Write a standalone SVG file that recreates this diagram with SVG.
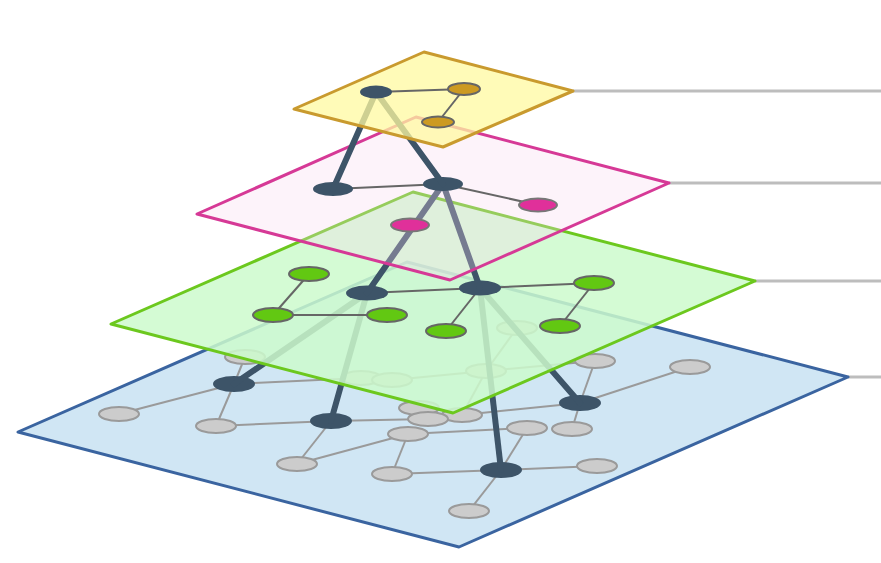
<svg xmlns="http://www.w3.org/2000/svg" width="881" height="563" viewBox="0 0 881 563">
<style>
.guide{stroke:#bdbdbd;stroke-width:3;fill:none}
.plane-b{fill:#d0e6f4;stroke:#3a64a0;stroke-width:3;stroke-linejoin:round}
.plane-g{fill:#cdfacd;fill-opacity:.85;stroke:#6cc81e;stroke-width:3;stroke-linejoin:round}
.plane-p{fill:#f8d8f0;fill-opacity:.3;stroke:#d63996;stroke-width:3;stroke-linejoin:round}
.plane-y{fill:#fff9a0;fill-opacity:.75;stroke:#c99a2e;stroke-width:3;stroke-linejoin:round}
.edge{stroke:#666;stroke-width:2;fill:none}
.edge-b{stroke:#9a9a9a;stroke-width:2;fill:none}
.link{stroke:#3d5468;stroke-width:6;stroke-linecap:round;fill:none}
.n-dark{fill:#3d5468}
.n-grey{fill:#cccccc;stroke:#9a9a9a;stroke-width:2}
.n-green{fill:#62c812;stroke:#666;stroke-width:2}
.n-pink{fill:#e0309a;stroke:#777;stroke-width:2}
.n-gold{fill:#cc9a22;stroke:#666;stroke-width:2}
</style>
<rect width="881" height="563" fill="#ffffff"/>
<g id="guides" class="connectors">
<line class="guide" x1="573" y1="91" x2="881" y2="91"/>
<line class="guide" x1="669" y1="183" x2="881" y2="183"/>
<line class="guide" x1="755" y1="281" x2="881" y2="281"/>
<line class="guide" x1="848" y1="377" x2="881" y2="377"/>
</g>
<!-- Layer 4 (blue) -->
<g id="layer-blue">
<polygon class="plane-b" points="18,432 407,262 848,377 459,547"/>
<g id="edges-blue" class="connectors">
<line class="edge-b" x1="119" y1="414" x2="234" y2="384"/>
<line class="edge-b" x1="234" y1="384" x2="245" y2="357"/>
<line class="edge-b" x1="234" y1="384" x2="216" y2="426"/>
<line class="edge-b" x1="234" y1="384" x2="361" y2="378"/>
<line class="edge-b" x1="216" y1="426" x2="331" y2="421"/>
<line class="edge-b" x1="331" y1="421" x2="297" y2="464"/>
<line class="edge-b" x1="331" y1="421" x2="428" y2="419"/>
<line class="edge-b" x1="297" y1="464" x2="408" y2="434"/>
<line class="edge-b" x1="408" y1="434" x2="392" y2="474"/>
<line class="edge-b" x1="408" y1="434" x2="527" y2="428"/>
<line class="edge-b" x1="392" y1="474" x2="501" y2="470"/>
<line class="edge-b" x1="501" y1="470" x2="527" y2="428"/>
<line class="edge-b" x1="501" y1="470" x2="597" y2="466"/>
<line class="edge-b" x1="501" y1="470" x2="469" y2="511"/>
<line class="edge-b" x1="580" y1="403" x2="572" y2="429"/>
<line class="edge-b" x1="580" y1="403" x2="690" y2="367"/>
<line class="edge-b" x1="580" y1="403" x2="595" y2="361"/>
<line class="edge-b" x1="580" y1="403" x2="462" y2="415"/>
<line class="edge-b" x1="361" y1="378" x2="392" y2="380"/>
<line class="edge-b" x1="392" y1="380" x2="486" y2="371"/>
<line class="edge-b" x1="486" y1="371" x2="517" y2="328"/>
<line class="edge-b" x1="486" y1="371" x2="462" y2="415"/>
<line class="edge-b" x1="486" y1="371" x2="595" y2="361"/>
<line class="edge-b" x1="428" y1="419" x2="462" y2="415"/>
<line class="edge-b" x1="419" y1="408" x2="428" y2="419"/>
</g>
<g id="n1"><ellipse class="n-grey" cx="119" cy="414" rx="20" ry="7"/></g>
<g id="n2"><ellipse class="n-grey" cx="216" cy="426" rx="20" ry="7"/></g>
<g id="n3"><ellipse class="n-grey" cx="297" cy="464" rx="20" ry="7"/></g>
<g id="n4"><ellipse class="n-grey" cx="408" cy="434" rx="20" ry="7"/></g>
<g id="n5"><ellipse class="n-grey" cx="392" cy="474" rx="20" ry="7"/></g>
<g id="n6"><ellipse class="n-grey" cx="245" cy="357" rx="20" ry="7"/></g>
<g id="n7"><ellipse class="n-grey" cx="527" cy="428" rx="20" ry="7"/></g>
<g id="n8"><ellipse class="n-grey" cx="572" cy="429" rx="20" ry="7"/></g>
<g id="n9"><ellipse class="n-grey" cx="597" cy="466" rx="20" ry="7"/></g>
<g id="n10"><ellipse class="n-grey" cx="469" cy="511" rx="20" ry="7"/></g>
<g id="n11"><ellipse class="n-grey" cx="595" cy="361" rx="20" ry="7"/></g>
<g id="n12"><ellipse class="n-grey" cx="690" cy="367" rx="20" ry="7"/></g>
<g id="n13"><ellipse class="n-grey" cx="462" cy="415" rx="20" ry="7"/></g>
<g id="n14"><ellipse class="n-grey" cx="419" cy="408" rx="20" ry="7"/></g>
<g id="n15"><ellipse class="n-grey" cx="428" cy="419" rx="20" ry="7"/></g>
<g id="n16"><ellipse class="n-grey" cx="361" cy="378" rx="20" ry="7"/></g>
<g id="n17"><ellipse class="n-grey" cx="392" cy="380" rx="20" ry="7"/></g>
<g id="n18"><ellipse class="n-grey" cx="486" cy="371" rx="20" ry="7"/></g>
<g id="n19"><ellipse class="n-grey" cx="517" cy="328" rx="20" ry="7"/></g>
<g id="B1"><ellipse class="n-dark" cx="234" cy="384" rx="21" ry="8"/></g>
<g id="B2"><ellipse class="n-dark" cx="331" cy="421" rx="21" ry="8"/></g>
<g id="B3"><ellipse class="n-dark" cx="501" cy="470" rx="21" ry="8"/></g>
<g id="B4"><ellipse class="n-dark" cx="580" cy="403" rx="21" ry="8"/></g>
</g>
<g id="links-green-blue" class="connectors">
<line class="link" x1="367" y1="293" x2="234" y2="384"/>
<line class="link" x1="367" y1="293" x2="331" y2="421"/>
<line class="link" x1="480" y1="288" x2="501" y2="470"/>
<line class="link" x1="480" y1="288" x2="580" y2="403"/>
</g>
<!-- Layer 3 (green) -->
<g id="layer-green">
<polygon class="plane-g" points="111,324 413,192 755,281 453,413"/>
<g id="edges-green" class="connectors">
<line class="edge" x1="309" y1="274" x2="273" y2="315"/>
<line class="edge" x1="273" y1="315" x2="387" y2="315"/>
<line class="edge" x1="367" y1="293" x2="480" y2="288"/>
<line class="edge" x1="480" y1="288" x2="446" y2="331"/>
<line class="edge" x1="480" y1="288" x2="594" y2="283"/>
<line class="edge" x1="594" y1="283" x2="560" y2="326"/>
</g>
<g id="g1"><ellipse class="n-green" cx="309" cy="274" rx="20" ry="7"/></g>
<g id="g2"><ellipse class="n-green" cx="273" cy="315" rx="20" ry="7"/></g>
<g id="g3"><ellipse class="n-green" cx="387" cy="315" rx="20" ry="7"/></g>
<g id="g4"><ellipse class="n-green" cx="446" cy="331" rx="20" ry="7"/></g>
<g id="g5"><ellipse class="n-green" cx="594" cy="283" rx="20" ry="7"/></g>
<g id="g6"><ellipse class="n-green" cx="560" cy="326" rx="20" ry="7"/></g>
<g id="G1"><ellipse class="n-dark" cx="367" cy="293" rx="21" ry="7.5"/></g>
<g id="G2"><ellipse class="n-dark" cx="480" cy="288" rx="21" ry="7.5"/></g>
</g>
<g id="links-pink-green" class="connectors">
<line class="link" x1="443" y1="184" x2="367" y2="293"/>
<line class="link" x1="443" y1="184" x2="480" y2="288"/>
</g>
<!-- Layer 2 (pink) -->
<g id="layer-pink">
<polygon class="plane-p" points="197,214 416,117 669,183 450,280"/>
<g id="edges-pink" class="connectors">
<line class="edge" x1="333" y1="189" x2="443" y2="184"/>
<line class="edge" x1="443" y1="184" x2="538" y2="205"/>
</g>
<g id="p1"><ellipse class="n-pink" cx="538" cy="205" rx="19" ry="6.5"/></g>
<g id="p2"><ellipse class="n-pink" cx="410" cy="225" rx="19" ry="6.5"/></g>
<g id="P1"><ellipse class="n-dark" cx="333" cy="189" rx="20" ry="7"/></g>
<g id="P2"><ellipse class="n-dark" cx="443" cy="184" rx="20" ry="7"/></g>
</g>
<g id="links-yellow-pink" class="connectors">
<line class="link" x1="376" y1="92" x2="333" y2="189"/>
<line class="link" x1="376" y1="92" x2="443" y2="184"/>
</g>
<!-- Layer 1 (yellow) -->
<g id="layer-yellow">
<polygon class="plane-y" points="294,109 424,52 573,91 443,147"/>
<g id="edges-yellow" class="connectors">
<line class="edge" x1="376" y1="92" x2="464" y2="89"/>
<line class="edge" x1="464" y1="89" x2="438" y2="122"/>
</g>
<g id="y1"><ellipse class="n-gold" cx="464" cy="89" rx="16" ry="6"/></g>
<g id="y2"><ellipse class="n-gold" cx="438" cy="122" rx="16" ry="5.5"/></g>
<g id="A"><ellipse class="n-dark" cx="376" cy="92" rx="16" ry="6.5"/></g>
</g>
</svg>
